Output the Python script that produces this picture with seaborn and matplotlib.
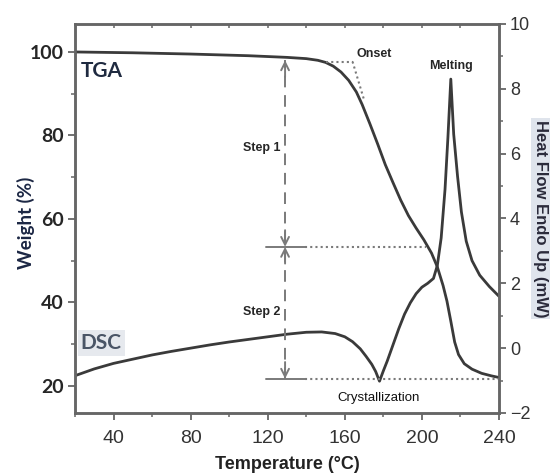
import numpy as np
import pandas as pd
import matplotlib
matplotlib.use("Agg")
import matplotlib.pyplot as plt
from matplotlib.ticker import MultipleLocator
import seaborn as sns

# TGA curve (weight %, left axis)
tga_temp = [20, 50, 80, 110, 130, 140, 146, 150, 154, 158, 162, 166, 169, 173, 177, 181, 185,
            189, 193, 197, 201, 205, 208, 211, 213, 215, 217, 219, 222, 226, 231, 236, 240]
tga_weight = [100, 99.8, 99.5, 99.1, 98.7, 98.4, 98.0, 97.5, 96.6, 95.2, 93.2, 90.4, 87.4, 82.8, 78.0,
              73.0, 68.7, 64.5, 60.8, 57.8, 55.0, 51.8, 48.5, 44.0, 40.3, 35.5, 30.5, 27.5, 25.3,
              24.0, 23.0, 22.4, 22.0]

# DSC curve (heat flow mW, right axis)
dsc_temp = [20, 30, 40, 50, 60, 70, 80, 90, 100, 110, 120, 130, 140, 148, 155, 160, 164, 168,
            171, 174, 176, 178, 180, 182, 185, 188, 191, 194, 197, 200, 203, 206, 208, 210,
            212, 213.5, 215, 216.5, 218.5, 220.5, 223, 226, 230, 235, 240]
dsc_flow = [-0.85, -0.64, -0.47, -0.34, -0.21, -0.1, 0.0, 0.1, 0.19, 0.27, 0.35, 0.43, 0.49, 0.5,
            0.45, 0.35, 0.2, -0.02, -0.25, -0.5, -0.72, -1.02, -0.7, -0.4, 0.1, 0.6, 1.05, 1.4,
            1.68, 1.88, 2.0, 2.15, 2.55, 3.4, 4.9, 6.5, 8.3, 6.6, 5.3, 4.2, 3.3, 2.7, 2.25, 1.9, 1.6]

# annotation levels
onset_temp, onset_weight = 164, 97.7
tangent_end = (170, 88.5)
step_temp = 129
step_levels = [98.0, 53.3, 21.7]   # top, step1/step2 boundary, end
step_mid_end = 202                 # where boundary dotted line meets TGA
xticks = [40, 80, 120, 160, 200, 240]
left_ticks = [20, 40, 60, 80, 100]
right_ticks = [-2, 0, 2, 4, 6, 8, 10]

sns.set_style("ticks")
arial = ["Liberation Sans", "DejaVu Sans"]
calibri = ["Lato", "DejaVu Sans"]
plt.rcParams["font.family"] = arial

line_c = "#3a3a3a"
gray = "#7a7a7a"
spine_c = "#666666"

fig = plt.figure(figsize=(5.54, 4.76), dpi=100)
ax = fig.add_axes([0.1354, 0.1324, 0.7653, 0.8172])
ax2 = ax.twinx()

tga = pd.DataFrame({"T": tga_temp, "W": tga_weight})
dsc = pd.DataFrame({"T": dsc_temp, "HF": dsc_flow})
sns.lineplot(data=tga, x="T", y="W", ax=ax, color=line_c, lw=2.0, sort=False, estimator=None)
sns.lineplot(data=dsc, x="T", y="HF", ax=ax2, color=line_c, lw=2.0, sort=False, estimator=None)

ax.set_xlim(20, 240)
ax.set_ylim(13.5, 106.7)
ax2.set_ylim(-2, 10)

ax.set_xticks(xticks)
ax.xaxis.set_minor_locator(MultipleLocator(20))
ax.set_yticks(left_ticks)
ax.yaxis.set_minor_locator(MultipleLocator(10))
ax2.set_yticks(right_ticks)
ax2.yaxis.set_minor_locator(MultipleLocator(1))

for a in (ax, ax2):
    for s in a.spines.values():
        s.set_visible(True)
        s.set_color(spine_c)
        s.set_linewidth(1.8)
ax.tick_params(axis="both", which="major", length=5, width=1.3, color=spine_c, direction="out")
ax.tick_params(axis="both", which="minor", length=3, width=1.1, color=spine_c, direction="out")
ax2.tick_params(axis="y", which="major", length=5, width=1.3, color=spine_c, direction="out",
                labelsize=13, labelcolor="#333333", pad=3)
ax2.tick_params(axis="y", which="minor", length=3, width=1.1, color=spine_c, direction="out")
ax.tick_params(axis="x", labelsize=14, labelcolor="#333333", pad=7)
ax.tick_params(axis="y", labelsize=14, pad=3)
for lab in ax.get_yticklabels():
    lab.set_family(calibri)
    lab.set_fontweight("bold")

# small ticks on top spine
top = ax.secondary_xaxis("top")
top.set_xticks(list(range(40, 240, 20)))
top.tick_params(direction="in", length=3, width=1.1, color=spine_c, labeltop=False)
top.spines["top"].set_visible(False)

ax.set_xlabel("Temperature (°C)", fontsize=13, fontweight="bold", color="#222222", labelpad=7)
ax.set_ylabel("Weight (%)", fontsize=13.5, fontweight="bold", color="#1c2744", family=calibri)
ax.yaxis.set_label_coords(-0.095, 0.49)
ax2.set_ylabel("Heat Flow Endo Up (mW)", fontsize=12, fontweight="bold", color="#2a2a3a",
               rotation=270, va="center",
               bbox=dict(boxstyle="square,pad=0.1", fc="#dfe4ec", ec="none"))
ax2.yaxis.set_label_coords(1.098, 0.5)

# curve names
ax.text(23, 95.5, "TGA", fontsize=15, fontweight="bold", color="#1f2a40", family=calibri,
        ha="left", va="center")
ax.text(23, 30.3, "DSC", fontsize=15, fontweight="bold", color="#4a5566", family=calibri,
        ha="left", va="center", bbox=dict(boxstyle="square,pad=0.15", fc="#e6e9ee", ec="none"))

# onset construction
ax.plot([150, onset_temp], [onset_weight, onset_weight], ls=(0, (1, 1.5)), color=gray, lw=1.5)
ax.plot([onset_temp, tangent_end[0]], [onset_weight, tangent_end[1]], ls=(0, (1, 1.5)), color=gray, lw=1.5)
ax.text(175, 99.6, "Onset", fontsize=9, fontweight="bold", ha="center", va="center")

# step arrows
ax.vlines(step_temp, step_levels[2], step_levels[0], colors=gray, linestyles=(0, (6, 4)), lw=1.4)
for lvl in step_levels[1:]:
    ax.plot([119, 139.5], [lvl, lvl], color=gray, lw=1.4)
ax.plot([139.5, step_mid_end], [step_levels[1]] * 2, ls=(0, (1, 1.5)), color=gray, lw=1.5)
ax.plot([139.5, 240], [step_levels[2]] * 2, ls=(0, (1, 1.5)), color=gray, lw=1.5)
arrow_kw = dict(arrowstyle="->", color=gray, lw=1.4, mutation_scale=14, shrinkA=0, shrinkB=0)
ax.annotate("", xy=(step_temp, step_levels[0]), xytext=(step_temp, step_levels[0] - 4), arrowprops=arrow_kw)
ax.annotate("", xy=(step_temp, step_levels[1]), xytext=(step_temp, step_levels[1] + 4), arrowprops=arrow_kw)
ax.annotate("", xy=(step_temp, step_levels[1]), xytext=(step_temp, step_levels[1] - 4), arrowprops=arrow_kw)
ax.annotate("", xy=(step_temp, step_levels[2]), xytext=(step_temp, step_levels[2] + 4), arrowprops=arrow_kw)
ax.text(117, 77, "Step 1", fontsize=9, fontweight="bold", ha="center", va="center")
ax.text(117, 37.8, "Step 2", fontsize=9, fontweight="bold", ha="center", va="center")

ax2.text(215, 8.7, "Melting", fontsize=9, fontweight="bold", ha="center", va="center")
ax2.text(177.7, -1.55, "Crystallization", fontsize=9.5, ha="center", va="center", color="#111111")

ax.set_zorder(ax2.get_zorder() + 1)
ax.patch.set_visible(False)

fig.savefig("out.png", dpi=100)
